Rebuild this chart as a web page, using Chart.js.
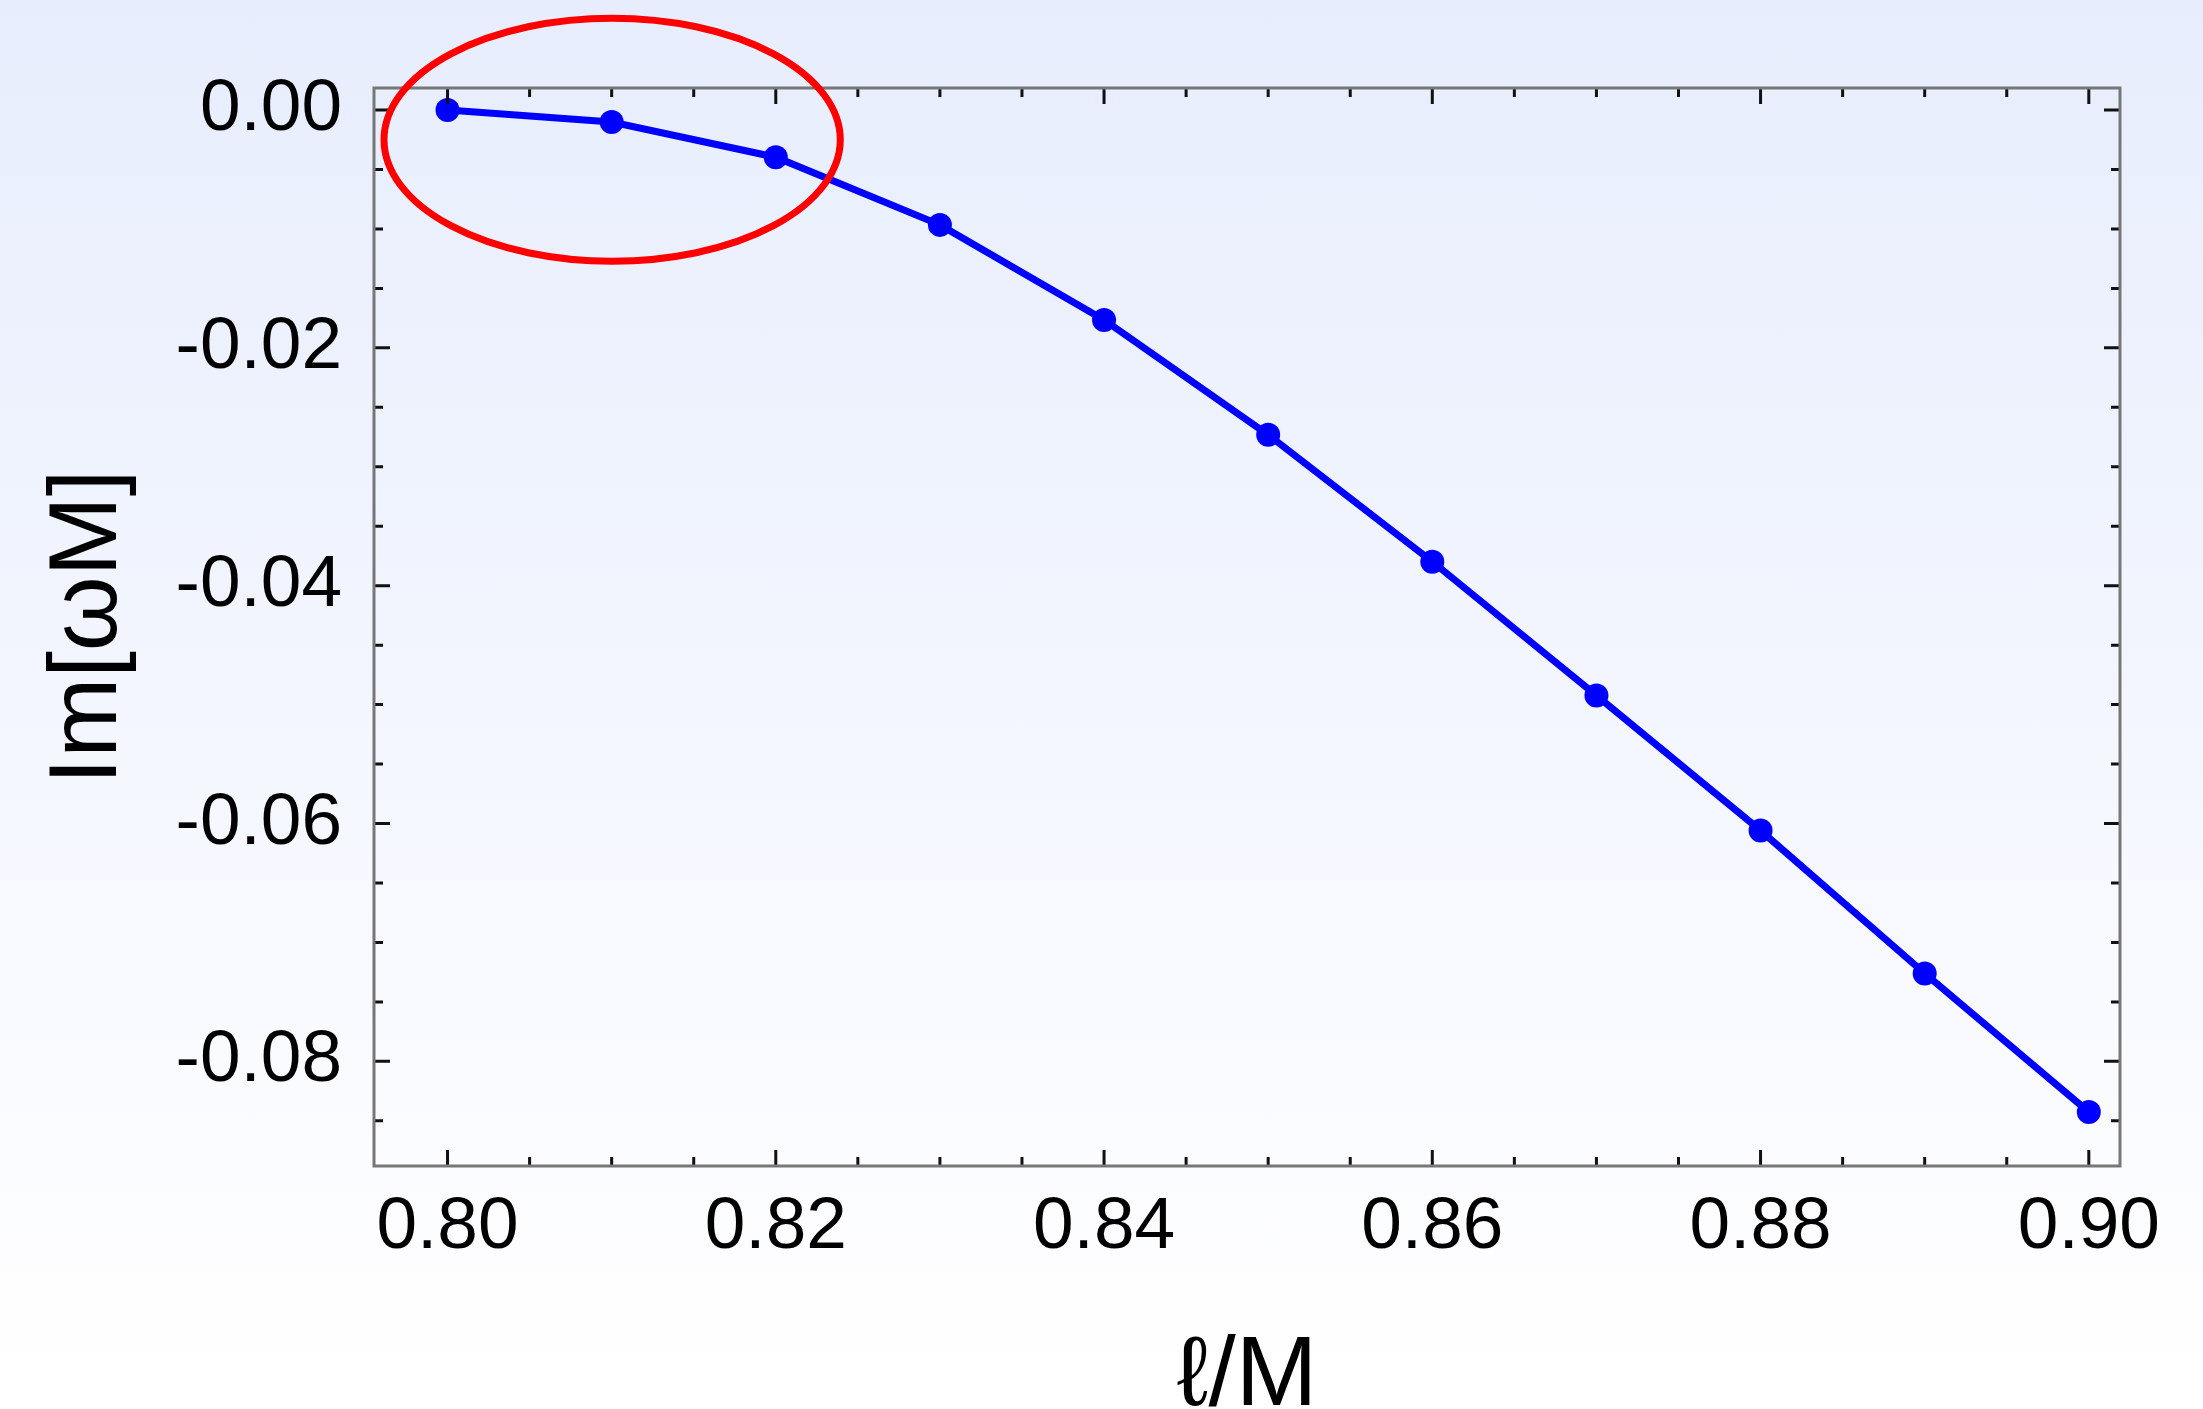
<!DOCTYPE html>
<html>
<head>
<meta charset="utf-8">
<script src="https://cdn.jsdelivr.net/npm/chart.js@4/dist/chart.umd.min.js"></script>
<style>
  html, body { margin: 0; padding: 0; }
  body {
    width: 2203px; height: 1409px; overflow: hidden;
    background: linear-gradient(to bottom, #e7edfc 0%, #f3f6fe 50%, #ffffff 100%);
  }
  canvas { display: block; }
</style>
</head>
<body>
<canvas id="c" width="2203" height="1409"></canvas>
<script>
// ---- data ----
const lOverM = [0.80, 0.81, 0.82, 0.83, 0.84, 0.85, 0.86, 0.87, 0.88, 0.89, 0.90];
const imOmegaM = [0.0000, -0.00101, -0.00397, -0.00966, -0.01765, -0.02731, -0.03798, -0.04924, -0.06059, -0.07261, -0.08426];

const xTickValues = [0.80, 0.82, 0.84, 0.86, 0.88, 0.90];
const xTickLabels = ["0.80", "0.82", "0.84", "0.86", "0.88", "0.90"];
const yTickValues = [0.00, -0.02, -0.04, -0.06, -0.08];
const yTickLabels = ["0.00", "-0.02", "-0.04", "-0.06", "-0.08"];
const xMinorTicks = [0.805, 0.81, 0.815, 0.825, 0.83, 0.835, 0.845, 0.85, 0.855, 0.865, 0.87, 0.875, 0.885, 0.89, 0.895];
const yMinorTicks = [-0.005, -0.01, -0.015, -0.025, -0.03, -0.035, -0.045, -0.05, -0.055, -0.065, -0.07, -0.075, -0.085];

// highlighted region (ellipse) in data units: centre x, centre y, radius x, radius y
const highlightEllipse = { cx: 0.81003, cy: -0.0025, rx: 0.01390, ry: 0.01022 };

const xRange = [0.79552, 0.90190];
const yRange = [-0.0888, 0.00185];

const FONT = "'Liberation Sans', Arial, Helvetica, sans-serif";

const framePlugin = {
  id: 'frame',
  afterDatasetsDraw(chart) {
    const {ctx, chartArea: a, scales: {x, y}} = chart;
    ctx.save();
    // inward ticks on all four sides
    ctx.strokeStyle = '#111111';
    ctx.lineWidth = 3;
    const MAJ = 16, MIN = 9;
    const drawX = (v, len) => {
      const px = x.getPixelForValue(v);
      ctx.beginPath();
      ctx.moveTo(px, a.bottom); ctx.lineTo(px, a.bottom - len);
      ctx.moveTo(px, a.top); ctx.lineTo(px, a.top + len);
      ctx.stroke();
    };
    const drawY = (v, len) => {
      const py = y.getPixelForValue(v);
      ctx.beginPath();
      ctx.moveTo(a.left, py); ctx.lineTo(a.left + len, py);
      ctx.moveTo(a.right, py); ctx.lineTo(a.right - len, py);
      ctx.stroke();
    };
    xTickValues.forEach(v => drawX(v, MAJ));
    xMinorTicks.forEach(v => drawX(v, MIN));
    yTickValues.forEach(v => drawY(v, MAJ));
    yMinorTicks.forEach(v => drawY(v, MIN));
    // frame
    ctx.strokeStyle = '#777777';
    ctx.lineWidth = 3;
    ctx.strokeRect(a.left, a.top, a.right - a.left, a.bottom - a.top);
    // red ellipse highlight
    const cx = x.getPixelForValue(highlightEllipse.cx);
    const cy = y.getPixelForValue(highlightEllipse.cy);
    const rx = Math.abs(x.getPixelForValue(highlightEllipse.cx + highlightEllipse.rx) - cx);
    const ry = Math.abs(y.getPixelForValue(highlightEllipse.cy + highlightEllipse.ry) - cy);
    ctx.strokeStyle = '#ff0000';
    ctx.lineWidth = 7;
    ctx.beginPath();
    ctx.ellipse(cx, cy, rx, ry, 0, 0, Math.PI * 2);
    ctx.stroke();
    ctx.restore();
  }
};

new Chart(document.getElementById('c'), {
  type: 'scatter',
  data: {
    datasets: [{
      data: lOverM.map((v, i) => ({x: v, y: imOmegaM[i]})),
      showLine: true,
      borderColor: '#0000ff',
      backgroundColor: '#0000ff',
      borderWidth: 7,
      pointRadius: 12,
      pointBorderWidth: 0,
      pointBackgroundColor: '#0000ff',
      clip: false
    }]
  },
  options: {
    responsive: false,
    animation: false,
    devicePixelRatio: 1,
    layout: { padding: { top: 88, right: 83, left: 0, bottom: 0 } },
    plugins: { legend: { display: false }, tooltip: { enabled: false } },
    scales: {
      x: {
        type: 'linear',
        position: 'bottom',
        min: xRange[0], max: xRange[1],
        afterBuildTicks: s => { s.ticks = xTickValues.map(v => ({value: v})); },
        afterFit: s => { s.height = 243; },
        grid: { display: false, drawTicks: false },
        border: { display: false },
        ticks: {
          color: '#000',
          padding: 18,
          maxRotation: 0,
          autoSkip: false,
          font: { family: FONT, size: 73, lineHeight: 1.2 },
          callback: (v, i) => xTickLabels[i]
        },
        title: {
          display: true,
          text: 'ℓ/M',
          color: '#000',
          font: { family: FONT, size: 98, lineHeight: 0.64 },
          padding: { top: 0, bottom: 0 }
        }
      },
      y: {
        type: 'linear',
        position: 'left',
        min: yRange[0], max: yRange[1],
        afterBuildTicks: s => { s.ticks = yTickValues.map(v => ({value: v})); },
        afterFit: s => { s.width = 374; },
        grid: { display: false, drawTicks: false },
        border: { display: false },
        ticks: {
          color: '#000',
          padding: 32,
          autoSkip: false,
          font: { family: FONT, size: 73, lineHeight: 1.2 },
          callback: (v, i) => yTickLabels[i]
        },
        title: {
          display: true,
          text: 'Im[ωM]',
          color: '#000',
          font: { family: FONT, size: 96, lineHeight: 1 },
          padding: { top: 42, bottom: 0 }
        }
      }
    }
  },
  plugins: [framePlugin]
});
</script>
</body>
</html>
